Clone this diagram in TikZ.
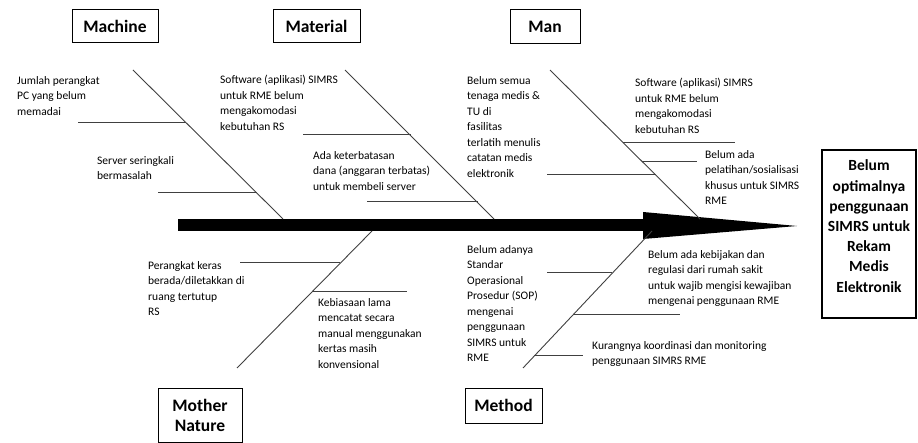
\documentclass[tikz,border=0pt]{standalone}
\usepackage{fontspec}
\setmainfont{Carlito}
\begin{document}
\begin{tikzpicture}[x=1pt,y=-1pt,
  txt/.style={anchor=north west, align=left, inner sep=0pt, font=\fontsize{11.5}{15.5}\selectfont},
  catbox/.style={draw, line width=1pt, font=\fontsize{17.5}{20}\selectfont\bfseries, align=center, inner sep=0pt},
  bone/.style={line width=0.9pt, draw=black!75},
  rib/.style={line width=1pt, draw=black!75}]
\useasboundingbox (0,0) rectangle (918,443);

% category boxes
\node[catbox, minimum width=86pt, minimum height=33pt] (machine) at (115,26.5) {Machine};
\node[catbox, minimum width=87pt, minimum height=33pt] (material) at (316.5,26.5) {Material};
\node[catbox, minimum width=70pt, minimum height=34pt] (man) at (545,27) {Man};
\node[catbox, minimum width=84pt, minimum height=54pt] (mother) at (200,415) {Mother\\Nature};
\node[catbox, minimum width=77pt, minimum height=35pt] (method) at (503.5,405.5) {Method};

% effect box
\node[draw, line width=1.3pt, minimum width=94pt, minimum height=168pt, inner sep=0pt, align=center,
      text depth=16pt, font=\fontsize{15.5}{20.2}\selectfont\bfseries] (effect) at (869,234)
  {Belum\\optimalnya\\penggunaan\\SIMRS untuk\\Rekam\\Medis\\Elektronik};

% spine
\coordinate (sS) at (178,225);
\coordinate (sH) at (646,225);
\coordinate (hT) at (643,212);
\coordinate (hB) at (643,239);
\coordinate (tip) at (797,226);
\draw[line width=12pt] (sS) -- (sH);
\fill (hT) -- (tip) -- (hB) -- cycle;

% bones
\coordinate (mA) at (133,70);  \coordinate (mB) at (283,219);
\coordinate (tA) at (345,70);  \coordinate (tB) at (494,219);
\coordinate (nA) at (550,70);  \coordinate (nB) at (700,219);
\coordinate (oA) at (237,368); \coordinate (oB) at (372,231);
\coordinate (dA) at (523,368); \coordinate (dB) at (652,231);
\draw[bone] (mA) -- (mB);
\draw[bone] (tA) -- (tB);
\draw[bone] (nA) -- (nB);
\draw[bone] (oA) -- (oB);
\draw[bone] (dA) -- (dB);

% ribs
\coordinate (r1a) at (78,123);  \coordinate (r1b) at (186,123);
\coordinate (r2a) at (158,193); \coordinate (r2b) at (257,193);
\coordinate (r3a) at (303,135); \coordinate (r3b) at (411,135);
\coordinate (r4a) at (367,202); \coordinate (r4b) at (478,202);
\coordinate (r5a) at (547,175); \coordinate (r5b) at (656,175);
\coordinate (r6a) at (623,143); \coordinate (r6b) at (735,143);
\coordinate (r7a) at (642,162); \coordinate (r7b) at (697,162);
\coordinate (r8a) at (240,263); \coordinate (r8b) at (340,263);
\coordinate (r9a) at (312,292); \coordinate (r9b) at (407,292);
\coordinate (r10a) at (547,273); \coordinate (r10b) at (612,273);
\coordinate (r11a) at (573,315); \coordinate (r11b) at (680,315);
\coordinate (r12a) at (534,356); \coordinate (r12b) at (583,356);
\foreach \i in {1,...,12} {\draw[rib] (r\i a) -- (r\i b);}

% cause texts
\node[txt] (t1) at (17,76) {Jumlah perangkat\\PC yang belum\\memadai};
\node[txt] (t2) at (97,156) {Server seringkali\\bermasalah};
\node[txt] (t3) at (220,75) {Software (aplikasi) SIMRS\\untuk RME belum\\mengakomodasi\\kebutuhan RS};
\node[txt] (t4) at (313,151) {Ada keterbatasan\\dana (anggaran terbatas)\\untuk membeli server};
\node[txt] (t5) at (467,76) {Belum semua\\tenaga medis \&\\TU di\\fasilitas\\terlatih menulis\\catatan medis\\elektronik};
\node[txt] (t6) at (635,78) {Software (aplikasi) SIMRS\\untuk RME belum\\mengakomodasi\\kebutuhan RS};
\node[txt] (t7) at (705,150) {Belum ada\\pelatihan/sosialisasi\\khusus untuk SIMRS\\RME};
\node[txt] (t8) at (148,261) {Perangkat keras\\berada/diletakkan di\\ruang tertutup\\RS};
\node[txt] (t9) at (318,298) {Kebiasaan lama\\mencatat secara\\manual menggunakan\\kertas masih\\konvensional};
\node[txt] (t10) at (467,245) {Belum adanya\\Standar\\Operasional\\Prosedur (SOP)\\mengenai\\penggunaan\\SIMRS untuk\\RME};
\node[txt] (t11) at (648,250) {Belum ada kebijakan dan\\regulasi dari rumah sakit\\untuk wajib mengisi kewajiban\\mengenai penggunaan RME};
\node[txt] (t12) at (592,341) {Kurangnya koordinasi dan monitoring\\penggunaan SIMRS RME};
\end{tikzpicture}
\end{document}
